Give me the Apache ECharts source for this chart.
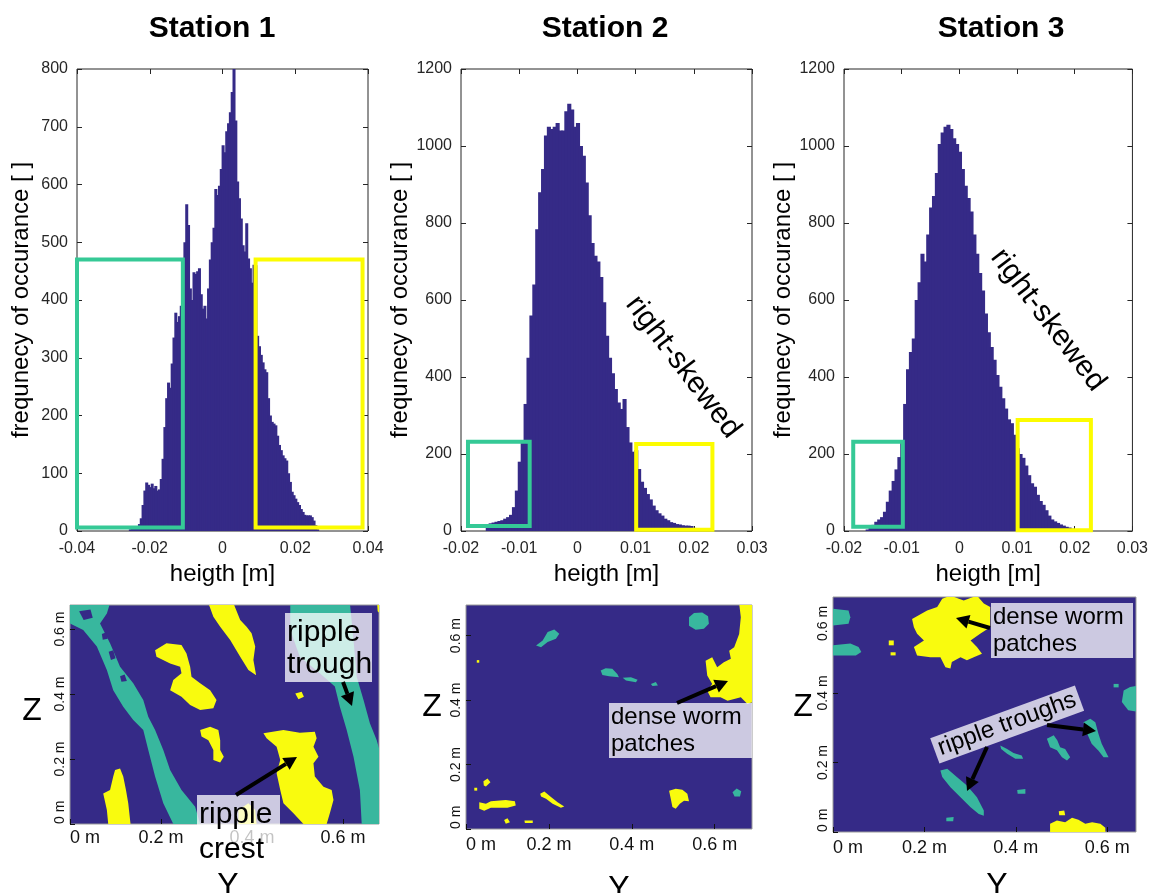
<!DOCTYPE html>
<html>
<head>
<meta charset="utf-8">
<title>Station height histograms</title>
<script src="https://cdn.jsdelivr.net/npm/echarts@6/dist/echarts.min.js"></script>
<style>
  html, body { margin: 0; padding: 0; background: #fff; }
  #chart { width: 1151px; height: 893px; }
</style>
</head>
<body>
<div id="chart"></div>
<script>
// ---- histogram data (bin width 0.5 mm, counts) ----
var binW = 0.0005
var s1Start = -0.0255
var s1Counts = [3, 4, 5, 6, 8, 12, 22, 45, 70, 84, 80, 76, 82, 74, 78, 70, 72, 90, 125, 180,
  230, 257, 248, 290, 335, 378, 362, 372, 390, 440, 500, 566, 530, 420, 400, 448, 445, 450, 455, 410,
  385, 390, 368, 420, 470, 500, 525, 592, 582, 598, 627, 668, 656, 692, 706, 725, 760, 800, 711, 605,
  576, 541, 495, 484, 533, 472, 455, 430, 461, 460, 338, 320, 305, 292, 280, 275, 230, 200, 189, 186,
  183, 165, 149, 140, 131, 126, 122, 100, 85, 68, 62, 56, 50, 45, 38, 33, 28, 27, 27, 27,
  24, 18, 10, 3]
var s2Start = -0.0155
var s2Counts = [12, 20, 22, 24, 26, 28, 32, 36, 42, 62, 105, 180, 230, 330, 450, 560, 640, 784, 880, 940,
  1027, 1050, 1044, 1050, 1060, 1040, 1040, 1090, 1110, 1095, 1050, 1060, 1000, 975, 905, 820, 748, 715, 700, 660,
  594, 507, 450, 410, 369, 334, 317, 343, 270, 230, 206, 210, 161, 128, 112, 96, 82, 66, 54, 46,
  40, 32, 28, 23, 21, 18, 17, 15, 14, 14, 13, 8]
var s3Start = -0.016
var s3Counts = [4, 8, 16, 24, 30, 36, 50, 76, 105, 130, 160, 192, 230, 330, 420, 465, 500, 600, 646, 720,
  700, 770, 840, 870, 930, 1005, 1035, 1050, 1055, 1044, 1020, 1005, 985, 940, 897, 865, 830, 770, 720, 670,
  625, 565, 516, 478, 445, 405, 375, 345, 318, 290, 280, 250, 215, 200, 190, 170, 145, 124, 115, 94,
  78, 68, 54, 40, 30, 25, 21, 17, 14, 11, 9, 6, 3]

// selection boxes [xFrom, xTo, countFrom, countTo]
var s1GreenBox = [-0.04, -0.0109, 6, 470]
var s1YellowBox = [0.0091, 0.0385, 6, 470]
var s2GreenBox = [-0.0188, -0.0082, 13, 232]
var s2YellowBox = [0.0101, 0.0232, 3, 226]
var s3GreenBox = [-0.0184, -0.0098, 11, 232]
var s3YellowBox = [0.0101, 0.0228, 2, 288]

// ---- classified maps: outlines of the patches in metres [Y, Z] ----
var map1Teal = [
  [[0, 0.68], [0.088, 0.68], [0.081, 0.648], [0.066, 0.617], [0.088, 0.556], [0.110, 0.484], [0.139, 0.433], [0.161, 0.382], [0.172, 0.330], [0.187, 0.289], [0.205, 0.228], [0.220, 0.166], [0.245, 0.105], [0.275, 0.053], [0.286, 0], [0.227, 0], [0.205, 0.064], [0.187, 0.146], [0.172, 0.228], [0.161, 0.289], [0.139, 0.320], [0.117, 0.361], [0.095, 0.412], [0.081, 0.474], [0.059, 0.546], [0.029, 0.597], [0, 0.617]],
  [[0.484, 0.68], [0.615, 0.68], [0.623, 0.566], [0.630, 0.453], [0.645, 0.382], [0.659, 0.310], [0.674, 0.258], [0.68, 0.228], [0.68, 0], [0.641, 0], [0.637, 0.105], [0.623, 0.207], [0.608, 0.289], [0.593, 0.361], [0.582, 0.423], [0.549, 0.464], [0.505, 0.515], [0.484, 0.597]]
]
// navy gaps inside the speckled upper part of the left trough
var map1Holes = [
  [[0.020, 0.655], [0.045, 0.66], [0.05, 0.635], [0.03, 0.628]],
  [[0.085, 0.53], [0.095, 0.535], [0.1, 0.51], [0.09, 0.505]],
  [[0.11, 0.455], [0.12, 0.46], [0.125, 0.44], [0.113, 0.438]],
  [[0.07, 0.585], [0.08, 0.59], [0.083, 0.57], [0.072, 0.567]]
]
var map1Yellow = [
  [[0.304, 0.68], [0.359, 0.68], [0.374, 0.628], [0.388, 0.607], [0.399, 0.587], [0.407, 0.546], [0.403, 0.505], [0.409, 0.458], [0.392, 0.474], [0.374, 0.515], [0.352, 0.566], [0.330, 0.607], [0.315, 0.638]],
  [[0.187, 0.535], [0.212, 0.556], [0.245, 0.551], [0.256, 0.525], [0.264, 0.484], [0.267, 0.453], [0.286, 0.433], [0.308, 0.412], [0.322, 0.382], [0.315, 0.356], [0.286, 0.351], [0.264, 0.366], [0.245, 0.392], [0.220, 0.412], [0.227, 0.443], [0.245, 0.464], [0.242, 0.484], [0.220, 0.494], [0.190, 0.515]],
  [[0.286, 0.289], [0.308, 0.299], [0.326, 0.289], [0.330, 0.258], [0.330, 0.228], [0.338, 0.207], [0.330, 0.189], [0.315, 0.197], [0.315, 0.228], [0.304, 0.258], [0.289, 0.269]],
  [[0.495, 0.402], [0.509, 0.407], [0.514, 0.392], [0.502, 0.384]],
  [[0.425, 0.279], [0.469, 0.289], [0.505, 0.281], [0.538, 0.284], [0.542, 0.264], [0.535, 0.238], [0.546, 0.207], [0.535, 0.187], [0.538, 0.146], [0.557, 0.115], [0.575, 0.105], [0.579, 0.074], [0.571, 0.033], [0.564, 0], [0.513, 0], [0.491, 0.033], [0.469, 0.064], [0.462, 0.105], [0.454, 0.156], [0.462, 0.197], [0.454, 0.238], [0.432, 0.264]],
  [[0.099, 0.166], [0.110, 0.171], [0.117, 0.146], [0.123, 0.105], [0.128, 0.064], [0.133, 0], [0.084, 0], [0.081, 0.043], [0.073, 0.094], [0.088, 0.105], [0.095, 0.146]],
  [[0.370, 0.043], [0.392, 0.064], [0.407, 0.043], [0.410, 0], [0.370, 0]],
  [[0.675, 0.68], [0.68, 0.68], [0.68, 0.65], [0.676, 0.655]]
]
var map2Teal = [
  [[0.538, 0.657], [0.550, 0.670], [0.570, 0.672], [0.584, 0.660], [0.586, 0.637], [0.574, 0.621], [0.554, 0.618], [0.538, 0.631]],
  [[0.169, 0.569], [0.185, 0.585], [0.197, 0.611], [0.213, 0.619], [0.225, 0.606], [0.217, 0.590], [0.197, 0.580], [0.181, 0.564]],
  [[0.325, 0.492], [0.337, 0.499], [0.353, 0.497], [0.365, 0.481], [0.369, 0.471], [0.345, 0.474], [0.329, 0.478]],
  [[0.378, 0.469], [0.398, 0.471], [0.414, 0.463], [0.410, 0.455], [0.386, 0.461]],
  [[0.446, 0.450], [0.458, 0.456], [0.463, 0.445], [0.450, 0.444]],
  [[0.643, 0.114], [0.653, 0.126], [0.664, 0.117], [0.661, 0.101], [0.648, 0.101]]
]
var map2Yellow = [
  [[0.659, 0.70], [0.70, 0.70], [0.70, 0.398], [0.679, 0.388], [0.663, 0.409], [0.631, 0.398], [0.614, 0.409], [0.590, 0.409], [0.582, 0.429], [0.594, 0.450], [0.582, 0.476], [0.578, 0.522], [0.594, 0.533], [0.606, 0.502], [0.622, 0.517], [0.639, 0.528], [0.635, 0.553], [0.647, 0.564], [0.659, 0.605], [0.663, 0.657]],
  [[0.032, 0.083], [0.048, 0.078], [0.060, 0.086], [0.096, 0.090], [0.118, 0.086], [0.120, 0.073], [0.100, 0.066], [0.060, 0.066], [0.044, 0.057], [0.032, 0.063]],
  [[0.179, 0.109], [0.189, 0.116], [0.205, 0.099], [0.221, 0.083], [0.237, 0.070], [0.229, 0.066], [0.209, 0.078], [0.193, 0.094], [0.181, 0.101]],
  [[0.042, 0.148], [0.052, 0.157], [0.059, 0.145], [0.048, 0.132], [0.043, 0.135]],
  [[0.092, 0.028], [0.100, 0.033], [0.106, 0.021], [0.096, 0.016]],
  [[0.141, 0.026], [0.161, 0.026], [0.161, 0.019], [0.142, 0.019]],
  [[0.490, 0.119], [0.506, 0.125], [0.522, 0.122], [0.534, 0.109], [0.538, 0.086], [0.526, 0.088], [0.516, 0.078], [0.506, 0.063], [0.498, 0.068], [0.494, 0.094]],
  [[0.026, 0.524], [0.032, 0.524], [0.032, 0.516], [0.026, 0.516]],
  [[0.020, 0.128], [0.027, 0.128], [0.027, 0.119], [0.020, 0.119]]
]
var map3Teal = [
  [[0, 0.642], [0.034, 0.637], [0.038, 0.618], [0.034, 0.599], [0, 0.594]],
  [[0, 0.537], [0.038, 0.542], [0.056, 0.532], [0.062, 0.518], [0.050, 0.508], [0, 0.508]],
  [[0.636, 0.407], [0.650, 0.417], [0.67, 0.422], [0.67, 0.345], [0.646, 0.350], [0.632, 0.374]],
  [[0.614, 0.426], [0.625, 0.426], [0.625, 0.416], [0.614, 0.416]],
  [[0.548, 0.316], [0.563, 0.326], [0.574, 0.316], [0.581, 0.282], [0.588, 0.254], [0.599, 0.225], [0.603, 0.215], [0.592, 0.215], [0.581, 0.234], [0.566, 0.254], [0.556, 0.283]],
  [[0.468, 0.268], [0.483, 0.278], [0.491, 0.263], [0.497, 0.244], [0.508, 0.239], [0.519, 0.215], [0.512, 0.206], [0.501, 0.215], [0.490, 0.235], [0.475, 0.244]],
  [[0.235, 0.177], [0.250, 0.182], [0.271, 0.158], [0.293, 0.134], [0.315, 0.100], [0.330, 0.062], [0.330, 0.047], [0.319, 0.052], [0.301, 0.071], [0.279, 0.100], [0.257, 0.129], [0.239, 0.158]],
  [[0.366, 0.249], [0.381, 0.239], [0.395, 0.227], [0.413, 0.220], [0.416, 0.211], [0.399, 0.211], [0.381, 0.225], [0.368, 0.239]],
  [[0.403, 0.121], [0.421, 0.124], [0.421, 0.110], [0.404, 0.110]],
  [[0.248, 0.041], [0.264, 0.043], [0.263, 0.031], [0.248, 0.031]]
]
var map3Yellow = [
  [[0.173, 0.613], [0.206, 0.637], [0.228, 0.647], [0.239, 0.671], [0.257, 0.68], [0.286, 0.666], [0.315, 0.68], [0.330, 0.657], [0.344, 0.647], [0.344, 0.589], [0.322, 0.570], [0.301, 0.551], [0.315, 0.532], [0.326, 0.513], [0.308, 0.503], [0.293, 0.494], [0.279, 0.503], [0.260, 0.489], [0.257, 0.470], [0.246, 0.474], [0.235, 0.503], [0.213, 0.503], [0.184, 0.508], [0.177, 0.532], [0.199, 0.551], [0.184, 0.570], [0.177, 0.589]],
  [[0.122, 0.551], [0.133, 0.551], [0.133, 0.537], [0.122, 0.537]],
  [[0.126, 0.517], [0.137, 0.517], [0.137, 0.508], [0.126, 0.508]],
  [[0.475, 0.024], [0.490, 0.033], [0.508, 0.028], [0.523, 0.041], [0.537, 0.035], [0.552, 0.024], [0.567, 0.028], [0.585, 0.024], [0.596, 0.012], [0.596, 0], [0.475, 0]],
  [[0.494, 0.060], [0.506, 0.062], [0.508, 0.048], [0.495, 0.048]]
]

var NAVY = '#352a87'
var TEAL = '#38b79e'
var YELLOW = '#f9fb0e'
var BOXGREEN = '#35c996'
var BOXYELLOW = '#fcfc00'
var FONT = '"Liberation Sans", Arial, sans-serif'

function fmtH(v) { return String(+v.toFixed(3)) }
function fmtN(v) { return String(v) }
function fmtM(v) { return (+v.toFixed(2)) + ' m' }

function histSeries(start, counts, gi) {
  return {
    type: 'custom', xAxisIndex: gi, yAxisIndex: gi, silent: true, animation: false,
    data: counts.map(function (c, i) { return [start + i * binW, c] }),
    renderItem: function (params, api) {
      var x = api.value(0)
      var a = api.coord([x - binW / 2, api.value(1)])
      var b = api.coord([x + binW / 2, 0])
      return { type: 'rect', shape: { x: a[0], y: a[1], width: b[0] - a[0] + 1.2, height: b[1] - a[1] }, style: { fill: NAVY } }
    }
  }
}

function boxSeries(box, color, gi) {
  return {
    type: 'custom', xAxisIndex: gi, yAxisIndex: gi, silent: true, animation: false, clip: false, z: 5,
    data: [[box[0], box[2]]],
    renderItem: function (params, api) {
      var pts = [[box[0], box[2]], [box[1], box[2]], [box[1], box[3]], [box[0], box[3]]].map(function (p) { return api.coord(p) })
      return { type: 'polygon', shape: { points: pts }, style: { fill: 'none', stroke: color, lineWidth: 4 } }
    }
  }
}

function blobSeries(polys, color, gi) {
  return {
    type: 'custom', xAxisIndex: gi, yAxisIndex: gi, silent: true, animation: false, clip: true,
    data: polys.map(function (p, i) { return [p[0][0], p[0][1], i] }),
    renderItem: function (params, api) {
      var poly = polys[params.dataIndex]
      return { type: 'polygon', shape: { points: poly.map(function (pt) { return api.coord(pt) }) }, style: { fill: color } }
    }
  }
}

function arrow(x1, y1, x2, y2) {
  var ang = Math.atan2(y2 - y1, x2 - x1)
  var L = 13, W = 7
  var bx = x2 - L * Math.cos(ang), by = y2 - L * Math.sin(ang)
  var nx = -Math.sin(ang), ny = Math.cos(ang)
  return [
    { type: 'line', z: 100, shape: { x1: x1, y1: y1, x2: bx, y2: by }, style: { stroke: '#000', lineWidth: 4 } },
    { type: 'polygon', z: 100, shape: { points: [[x2, y2], [bx + nx * W, by + ny * W], [bx - nx * W, by - ny * W]] }, style: { fill: '#000' } }
  ]
}

function label(x, y, text, size, extra) {
  var s = { text: text, font: (extra || '') + ' ' + size + 'px ' + FONT, fill: '#000', textAlign: 'center', textVerticalAlign: 'middle' }
  return { type: 'text', z: 100, x: x, y: y, style: s }
}

function noteBox(x, y, w, h) {
  return { type: 'rect', z: 99, shape: { x: x, y: y, width: w, height: h }, style: { fill: 'rgba(255,255,255,0.75)' } }
}

function noteText(x, y, text, size, lh) {
  return { type: 'text', z: 100, x: x, y: y, style: { text: text, font: size + 'px ' + FONT, lineHeight: lh, fill: '#000', textAlign: 'left', textVerticalAlign: 'top' } }
}

var grids = [
  { left: 77, top: 69, width: 291, height: 462 },
  { left: 461, top: 69, width: 291, height: 462 },
  { left: 844, top: 69, width: 292, height: 462 },
  { left: 70, top: 605, width: 309, height: 219 },
  { left: 466, top: 605, width: 286, height: 224 },
  { left: 833, top: 597, width: 303, height: 235 }
].map(function (g, i) {
  g.show = true
  g.borderWidth = 1
  g.borderColor = i < 3 ? '#262626' : '#9a9a9a'
  g.backgroundColor = i < 3 ? '#fff' : NAVY
  return g
})

var histX = [[-0.04, 0.04, 0.02], [-0.02, 0.03, 0.01], [-0.02, 0.03, 0.01]]
var histY = [[0, 800, 100], [0, 1200, 200], [0, 1200, 200]]
var mapX = [0.679, 0.69, 0.663]
var mapY = [0.674, 0.695, 0.676]
var yNameGap = [44, 41, 41]

var tickStyle = { inside: true, length: 5, lineStyle: { color: '#262626' } }
var noLine = { show: false, onZero: false }
var xAxes = [], yAxes = []
for (var i = 0; i < 3; i++) {
  xAxes.push({
    type: 'value', gridIndex: i, min: histX[i][0], max: histX[i][1], interval: histX[i][2],
    axisLine: noLine, axisTick: tickStyle, splitLine: { show: false },
    axisLabel: { formatter: fmtH, fontSize: 16, color: '#262626', margin: 10 },
    name: 'heigth [m]', nameLocation: 'middle', nameGap: 30,
    nameTextStyle: { fontSize: 24, color: '#000', verticalAlign: 'top' }
  })
  yAxes.push({
    type: 'value', gridIndex: i, min: histY[i][0], max: histY[i][1], interval: histY[i][2],
    axisLine: noLine, axisTick: tickStyle, splitLine: { show: false },
    axisLabel: { formatter: fmtN, fontSize: 16, color: '#262626', margin: 9 },
    name: 'frequnecy of occurance [ ]', nameLocation: 'middle', nameGap: yNameGap[i], nameRotate: 90,
    nameTextStyle: { fontSize: 24, color: '#000' }
  })
}
for (var j = 0; j < 3; j++) {
  xAxes.push({
    type: 'value', gridIndex: 3 + j, min: 0, max: mapX[j], interval: 0.2,
    axisLine: noLine, axisTick: { inside: true, length: 5, lineStyle: { color: '#111' } }, splitLine: { show: false },
    axisLabel: { formatter: fmtM, fontSize: 18, color: '#111', margin: j === 0 ? 5 : 7, showMaxLabel: false, alignMinLabel: 'left' }
  })
  yAxes.push({
    type: 'value', gridIndex: 3 + j, min: 0, max: mapY[j], interval: 0.2,
    axisLine: noLine, axisTick: { inside: true, length: 5, lineStyle: { color: '#111' } }, splitLine: { show: false },
    axisLabel: { formatter: fmtM, fontSize: 14, color: '#111', margin: 3, rotate: 90, showMaxLabel: false, alignMinLabel: 'left' }
  })
}
// mirrored ticks on the top and right side of the histograms
for (var k = 0; k < 3; k++) {
  xAxes.push({ type: 'value', gridIndex: k, position: 'top', min: histX[k][0], max: histX[k][1], interval: histX[k][2], axisLine: noLine, axisTick: tickStyle, axisLabel: { show: false }, splitLine: { show: false } })
  yAxes.push({ type: 'value', gridIndex: k, position: 'right', min: histY[k][0], max: histY[k][1], interval: histY[k][2], axisLine: noLine, axisTick: tickStyle, axisLabel: { show: false }, splitLine: { show: false } })
}

var series = [
  histSeries(s1Start, s1Counts, 0),
  histSeries(s2Start, s2Counts, 1),
  histSeries(s3Start, s3Counts, 2),
  boxSeries(s1GreenBox, BOXGREEN, 0), boxSeries(s1YellowBox, BOXYELLOW, 0),
  boxSeries(s2GreenBox, BOXGREEN, 1), boxSeries(s2YellowBox, BOXYELLOW, 1),
  boxSeries(s3GreenBox, BOXGREEN, 2), boxSeries(s3YellowBox, BOXYELLOW, 2),
  blobSeries(map1Teal, TEAL, 3), blobSeries(map1Holes, NAVY, 3), blobSeries(map1Yellow, YELLOW, 3),
  blobSeries(map2Teal, TEAL, 4), blobSeries(map2Yellow, YELLOW, 4),
  blobSeries(map3Teal, TEAL, 5), blobSeries(map3Yellow, YELLOW, 5)
]

var graphics = [
  label(212, 29, 'Station 1', 30, 'bold'),
  label(605, 29, 'Station 2', 30, 'bold'),
  label(1001, 29, 'Station 3', 30, 'bold'),
  label(32, 711, 'Z', 32), label(432, 707, 'Z', 32), label(803, 707, 'Z', 32),
  label(228, 886, 'Y', 32), label(619, 889, 'Y', 32), label(997, 886, 'Y', 32),
  { type: 'text', z: 100, x: 683, y: 367, rotation: -0.92, style: { text: 'right-skewed', font: '30px ' + FONT, fill: '#000', textAlign: 'center', textVerticalAlign: 'middle' } },
  { type: 'text', z: 100, x: 1048, y: 320, rotation: -0.92, style: { text: 'right-skewed', font: '30px ' + FONT, fill: '#000', textAlign: 'center', textVerticalAlign: 'middle' } },
  noteBox(285, 613, 87, 69), noteText(287, 617, 'ripple\ntrough', 30, 32),
  noteBox(197, 795, 83, 72), noteText(199, 797, 'ripple\ncrest', 30, 35),
  noteBox(609, 703, 143, 55), noteText(611, 704, 'dense worm\npatches', 24, 27),
  noteBox(991, 603, 142, 55), noteText(993, 604, 'dense worm\npatches', 24, 27),
  {
    type: 'group', x: 1007, y: 724, rotation: 0.35, z: 100,
    children: [
      { type: 'rect', z: 99, shape: { x: -77, y: -13, width: 154, height: 27 }, style: { fill: 'rgba(255,255,255,0.75)' } },
      { type: 'text', z: 100, x: 0, y: 0, style: { text: 'ripple troughs', font: '24px ' + FONT, fill: '#000', textAlign: 'center', textVerticalAlign: 'middle' } }
    ]
  }
]
graphics = graphics
  .concat(arrow(343, 682, 352, 706))
  .concat(arrow(236, 795, 297, 757))
  .concat(arrow(677, 703, 728, 681))
  .concat(arrow(990, 628, 956, 618))
  .concat(arrow(987, 747, 967, 791))
  .concat(arrow(1047, 725, 1096, 731))

var myChart = echarts.init(document.getElementById('chart'), null, { renderer: 'canvas' })
myChart.setOption({
  animation: false,
  textStyle: { fontFamily: FONT },
  grid: grids,
  xAxis: xAxes,
  yAxis: yAxes,
  series: series,
  graphic: graphics
})
</script>
</body>
</html>
